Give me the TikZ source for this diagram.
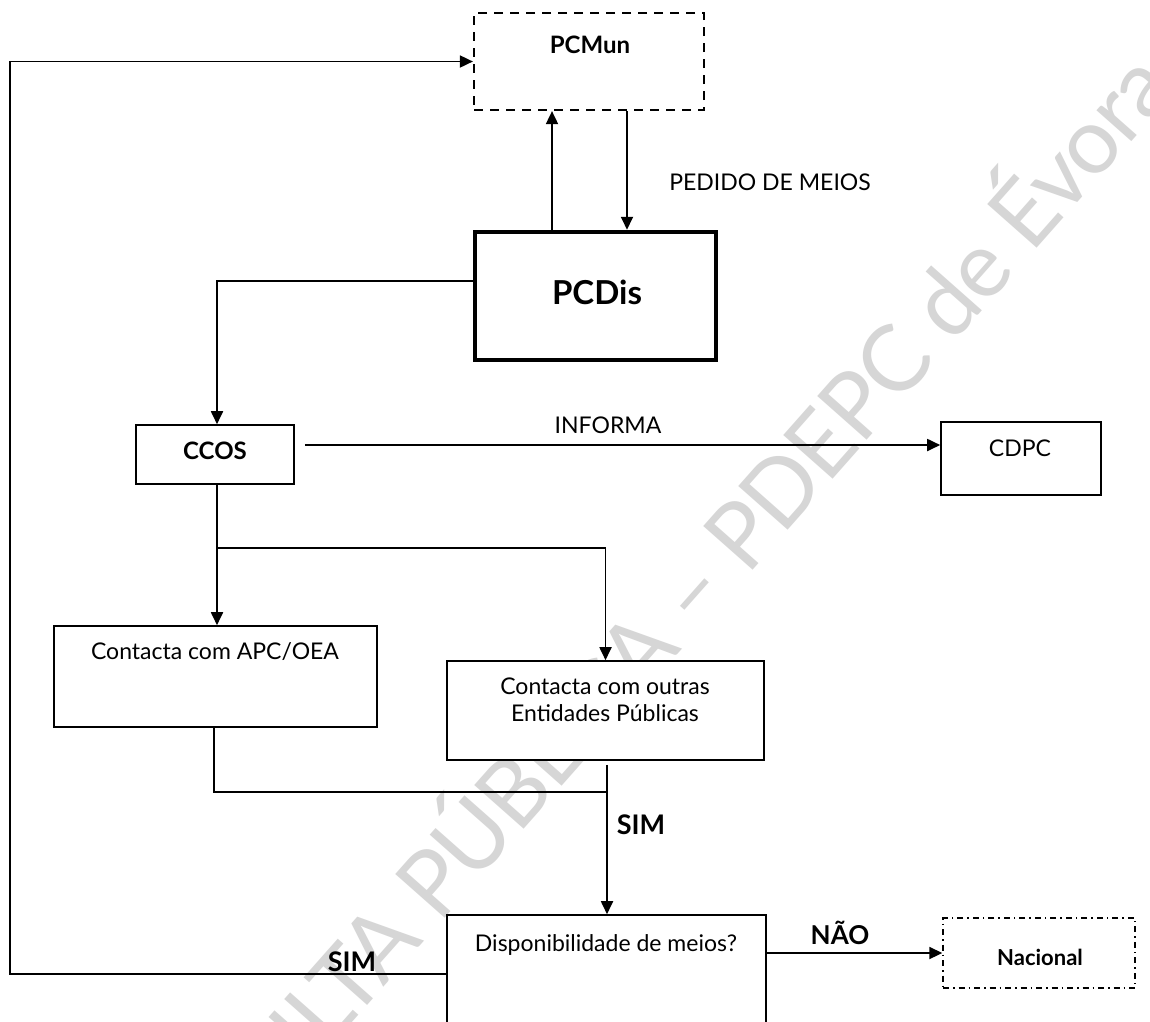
\documentclass[tikz,border=0pt]{standalone}
\usepackage{fontspec}
\setmainfont{Lato}
\newfontfamily\stampfont[LetterSpace=-2]{Lato}
\usetikzlibrary{arrows.meta}
\begin{document}
\begin{tikzpicture}[x=1pt,y=-1pt,
  box/.style={draw, fill=white, line width=1.6pt, inner sep=0pt},
  arr/.style={line width=1.8pt, -{Triangle[length=13pt,width=12pt]}},
  conn/.style={line width=1.8pt},
  txt/.style={font=\fontsize{23}{27}\selectfont, inner sep=0pt, align=center},
  btxt/.style={font=\fontsize{#1}{#1}\selectfont\bfseries, inner sep=0pt},
  wm/.style={text=black!16, font=\stampfont\fontsize{92}{98}\selectfont, inner sep=0pt}
]
\fill[white] (0,0) rectangle (1150,1021);
\useasboundingbox (0,0) rectangle (1150,1021);
\clip (0,0) rectangle (1150,1021);

% background stamp
\node[wm, rotate=48.5, anchor=east] (stamp) at (1146,62) {CONSULTA PÚBLICA – PDEPC de Évora};

% boxes
\node[box, line width=2.2pt, dash pattern=on 9pt off 7pt, minimum width=230pt, minimum height=97pt] (pcmun) at (589,61.5) {};
\node[box, line width=4.5pt, minimum width=241pt, minimum height=128pt] (pcdis) at (595.5,296) {};
\node[box, minimum width=158pt, minimum height=59pt] (ccos) at (215,454.5) {};
\node[box, minimum width=160pt, minimum height=73pt] (cdpc) at (1021,458.5) {};
\node[box, minimum width=323pt, minimum height=101pt] (apc) at (215.5,676.5) {};
\node[box, minimum width=317pt, minimum height=99pt] (ent) at (605.5,710.5) {};
\node[box, minimum width=319pt, minimum height=118pt] (disp) at (606.5,974) {};
\node[box, line width=1.4pt, dash pattern=on 6pt off 4pt on 1.5pt off 4pt, minimum width=192pt, minimum height=70pt] (nac) at (1039,953) {};

% box texts
\node[btxt=24] (pcmunt) at (590,45) {PCMun};
\node[btxt=33] (pcdist) at (597,292) {PCDis};
\node[btxt=24] (ccost) at (215,451) {CCOS};
\node[txt] (cdpct) at (1020,448) {CDPC};
\node[txt] (apct) at (215,652) {Contacta com APC/OEA};
\node[txt] (entt1) at (605,686) {Contacta com outras};
\node[txt] (entt2) at (605,713) {Entidades Públicas};
\node[txt] (dispt) at (606,945) {Disponibilidade de meios?};
\node[btxt=22] (nact) at (1040,957) {Nacional};

% connectors
\draw[arr] ([xshift=-43.5pt]pcdis.north) -- ([xshift=-37pt]pcmun.south);
\draw[arr] ([xshift=38pt]pcmun.south) -- ([xshift=31.5pt]pcdis.north);
\node[txt] (pedido) at (770,182) {PEDIDO DE MEIOS};

\draw[arr] ([yshift=15pt]pcdis.west) -| ([xshift=2pt]ccos.north);

\draw[arr, shorten <=10pt] ([yshift=9.5pt]ccos.east) -- ([yshift=9.5pt]ccos.east -| cdpc.west);
\node[txt] (informa) at (608,425) {INFORMA};

\coordinate (split) at (217,548);
\draw[conn] ([xshift=2pt]ccos.south) -- (split);
\draw[arr] (split) -- (split |- apc.north);
\draw[arr] (split) -| (ent.north);

\coordinate (merge) at (607,792);
\draw[conn] ([xshift=-1.5pt]apc.south) |- (merge);
\draw[arr, shorten <=4pt] ([xshift=1.5pt]ent.south) -- ([xshift=1.5pt]ent.south |- disp.north);
\node[btxt=27] (sim1) at (641,825) {SIM};

\coordinate (leftrail) at (10,0);
\draw[arr] (disp.west) -- (disp.west -| leftrail) |- (pcmun.west);
\node[btxt=27] (sim2) at (352,962) {SIM};

\draw[arr] (disp.east |- nac.west) -- (nac.west);
\node[btxt=26] (nao) at (840,933) {NÃO};
\end{tikzpicture}
\end{document}
